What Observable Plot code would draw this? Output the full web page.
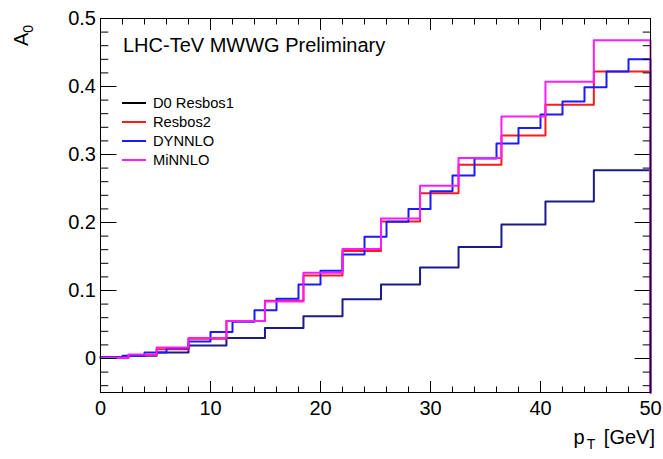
<!DOCTYPE html>
<html>
<head>
<meta charset="utf-8">
<script src="https://cdn.jsdelivr.net/npm/d3@7"></script>
<script src="https://cdn.jsdelivr.net/npm/@observablehq/plot@0.6"></script>
<style>
  body { margin: 0; background: #fff; }
  #chart svg { display: block; }
</style>
</head>
<body>
<div id="chart"></div>
<script>
// ---- data ----
const seriesNames = ["D0 Resbos1", "Resbos2", "DYNNLO", "MiNNLO"];
const seriesColors = ["#1a1a8c", "#ff1a1a", "#1a1aff", "#ff1aff"];
const legendColors = ["#000000", "#ff1a1a", "#1a1aff", "#ff1aff"];

// variable-width bins (D0 Resbos1, Resbos2, MiNNLO)
const edgesD0 = [0, 2.55, 5.1, 8.0, 11.45, 14.95, 18.45, 22.0, 25.5, 29.05, 32.55, 36.45, 40.45, 44.85, 50];
const resbos1 = [0.002, 0.004, 0.009, 0.019, 0.030, 0.045, 0.062, 0.087, 0.109, 0.134, 0.164, 0.197, 0.231, 0.277];
const resbos2 = [0.001, 0.005, 0.0135, 0.029, 0.055, 0.085, 0.122, 0.158, 0.2016, 0.243, 0.285, 0.328, 0.373, 0.422];
const minnlo  = [0.001, 0.006, 0.016, 0.030, 0.055, 0.084, 0.126, 0.161, 0.206, 0.254, 0.295, 0.356, 0.407, 0.468];

// 2 GeV bins (DYNNLO)
const edgesDY = [0, 2, 4, 6, 8, 10, 12, 14, 16, 18, 20, 22, 24, 26, 28, 30, 32, 34, 36, 38, 40, 42, 44, 46, 48, 50];
const dynnlo  = [0.002, 0.004, 0.009, 0.015, 0.025, 0.039, 0.054, 0.071, 0.088, 0.109, 0.129, 0.153, 0.179, 0.201,
                 0.220, 0.246, 0.269, 0.294, 0.316, 0.339, 0.359, 0.378, 0.399, 0.422, 0.440];

const xDomain = [0, 50];
const yDomain = [-0.05, 0.5];
const xMajor = [0, 10, 20, 30, 40, 50];
const xMinor = [2, 4, 6, 8, 12, 14, 16, 18, 22, 24, 26, 28, 32, 34, 36, 38, 42, 44, 46, 48];
const yMajor = [0, 0.1, 0.2, 0.3, 0.4, 0.5];
const yMinor = [-0.04, -0.02, 0.02, 0.04, 0.06, 0.08, 0.12, 0.14, 0.16, 0.18, 0.22, 0.24, 0.26, 0.28,
                0.32, 0.34, 0.36, 0.38, 0.42, 0.44, 0.46, 0.48];

const titleText = "LHC-TeV MWWG Preliminary";
const FONT = "'Liberation Sans', Arial, Helvetica, sans-serif";

// ---- build histogram outlines ----
function histo(name, edges, vals) {
  const pts = vals.map((v, i) => ({s: name, x: edges[i], y: v}));
  pts.push({s: name, x: edges[edges.length - 1], y: vals[vals.length - 1]});
  pts.push({s: name, x: edges[edges.length - 1], y: yDomain[0]});
  return pts;
}
const table = [
  ...histo(seriesNames[0], edgesD0, resbos1),
  ...histo(seriesNames[1], edgesD0, resbos2),
  ...histo(seriesNames[2], edgesDY, dynnlo),
  ...histo(seriesNames[3], edgesD0, minnlo)
];

// ---- annotations (title, legend, axis titles) ----
function annotations(index, scales, values, dims) {
  const {marginLeft, marginTop, width, height} = dims;
  const g = d3.create("svg:g")
    .attr("font-family", FONT).attr("fill", "black").attr("text-anchor", "start");
  g.append("text")
    .attr("x", marginLeft + 23).attr("y", marginTop + 33.5)
    .attr("font-size", 20).text(titleText);
  seriesNames.forEach((name, i) => {
    const cy = marginTop + 85 + i * 19;
    g.append("line")
      .attr("x1", marginLeft + 22).attr("x2", marginLeft + 46)
      .attr("y1", cy).attr("y2", cy)
      .attr("stroke", legendColors[i]).attr("stroke-width", 2);
    g.append("text")
      .attr("x", marginLeft + 53).attr("y", cy + 5)
      .attr("font-size", 14.7).text(name);
  });
  // x title: p_T [GeV]
  const xt = g.append("text")
    .attr("x", width - 8).attr("y", height - 15)
    .attr("text-anchor", "end").attr("font-size", 20);
  xt.append("tspan").text("p");
  xt.append("tspan").attr("font-size", 14).attr("dy", 5).attr("dx", 2).text("T");
  xt.append("tspan").attr("dy", -5).attr("dx", 3).text(" [GeV]");
  // y title: A_0
  const yt = g.append("text")
    .attr("transform", `translate(28,${marginTop + 28}) rotate(-90)`)
    .attr("text-anchor", "start").attr("font-size", 20);
  yt.append("tspan").text("A");
  yt.append("tspan").attr("font-size", 14).attr("dy", 5).text("0");
  return g.node();
}

const chart = Plot.plot({
  width: 663,
  height: 459,
  marginLeft: 100,
  marginRight: 13,
  marginTop: 18,
  marginBottom: 67,
  style: {fontFamily: FONT, fontSize: "20px", background: "white", color: "black"},
  x: {domain: xDomain},
  y: {domain: yDomain},
  color: {domain: seriesNames, range: seriesColors},
  marks: [
    Plot.line(table, {x: "x", y: "y", z: "s", stroke: "s", strokeWidth: 2, curve: "step-after"}),
    Plot.frame({stroke: "black", strokeWidth: 1}),
    Plot.axisX(xMajor, {anchor: "bottom", tickSize: -11, tickPadding: 19, label: null, tickFormat: d => String(d)}),
    Plot.axisX(xMinor, {anchor: "bottom", tickSize: -5.5, fill: "none", label: null}),
    Plot.axisX(xMajor, {anchor: "top", tickSize: -11, fill: "none", label: null}),
    Plot.axisX(xMinor, {anchor: "top", tickSize: -5.5, fill: "none", label: null}),
    Plot.axisY(yMajor, {anchor: "left", tickSize: -16.5, tickPadding: 21, label: null,
      tickFormat: d => d === 0 ? "0" : d.toFixed(1)}),
    Plot.axisY(yMinor, {anchor: "left", tickSize: -8.3, fill: "none", label: null}),
    Plot.axisY(yMajor, {anchor: "right", tickSize: -16.5, fill: "none", label: null}),
    Plot.axisY(yMinor, {anchor: "right", tickSize: -8.3, fill: "none", label: null}),
    annotations
  ]
});
document.getElementById("chart").appendChild(chart);
</script>
</body>
</html>
